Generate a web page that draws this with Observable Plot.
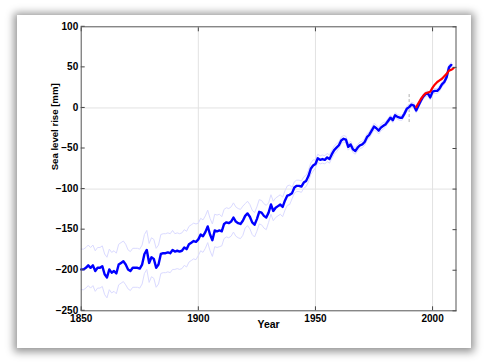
<!DOCTYPE html>
<html>
<head>
<meta charset="utf-8">
<script src="https://cdn.jsdelivr.net/npm/d3@7"></script>
<script src="https://cdn.jsdelivr.net/npm/@observablehq/plot@0.6"></script>
<style>
  html, body { margin: 0; padding: 0; background: #fff; }
  #wrap { position: relative; width: 488px; height: 364px; overflow: hidden; }
  #card { position: absolute; left: 17px; top: 15px; width: 454px; height: 333px; background: #fff;
          box-shadow: 0 1px 8px 3px rgba(0,0,0,0.42); }
  #chart { position: absolute; left: 0; top: 0; }
  #chart text { font-family: "Liberation Sans Narrow", "Arial Narrow", "Liberation Sans", Arial, sans-serif; font-weight: bold; fill: #000; }
  #chart text.ylab { font-family: "Liberation Sans", Arial, sans-serif; }
</style>
</head>
<body>
<div id="wrap"><div id="card"></div><div id="chart"></div></div>
<script>
// Reconstructed global mean sea level (tide gauges), mm, yearly 1850-2008
const tgStartYear = 1850;
const tgValues = [
  -199,-199,-197,-194,-197,-194,-201,-197,-197,-195,
  -205,-209,-199,-203,-201,-204,-193,-191,-189,-193,
  -199,-201,-197,-197,-197,-198,-193,-180,-175,-191,
  -184,-186,-197,-193,-180,-179,-179,-178,-179,-175,
  -177,-176,-177,-176,-172,-174,-168,-166,-164,-165,
  -162,-156,-158,-153,-146,-156,-163,-151,-152,-151,
  -152,-143,-141,-142,-140,-135,-140,-142,-143,-139,
  -133,-130,-134,-141,-144,-137,-128,-129,-133,-135,
  -129,-119,-127,-123,-121,-119,-122,-114,-108,-107,
  -105,-98,-96,-96,-97,-92,-90,-84,-75,-71,
  -69,-62,-64,-63,-64,-61,-63,-57,-52,-49,
  -46,-40,-38,-39,-48,-45,-51,-53,-49,-46,
  -45,-42,-36,-33,-28,-23,-25,-28,-24,-22,
  -20,-16,-12,-15,-9,-11,-12,-12,-7,-1,
  1,4,3,-3,3,9,14,17,18,13,
  20,21,21,24,29,32,38,50,53
];
// Half-width of the uncertainty envelope (mm), read per decade from 1850s to 2000s
const errDecades = [1850,1860,1870,1880,1890,1900,1910,1920,1930,1940,1950,1960,1970,1980,1990,2000];
const errValues  = [25,  25,  24,  24,  22,  20,  18,  15,  12,  7,   5,   4,   4,   3,   3,   3];

// Satellite altimetry (red), mm
const satYears  = [1993,1994,1995,1996,1997,1998,1999,2000,2001,2002,2003,2004,2005,2006,2007,2008,2009];
const satValues = [1,6,11,15,18,19,20,25,29,32,34,36,39,42,46,47,49];

// Dashed marker where the series join
const joinYear = [1990];
const joinRange = [-18, 19];

const xTicks = [1850, 1900, 1950, 2000];
const yTicks = [100, 50, 0, -50, -100, -150, -200, -250];
const xGrid = [1900, 1950, 2000];
const yGrid = [0, -100];
const xDomain = [1850, 2010];
const yDomain = [-250, 100];
const xLabel = "Year";
const yLabel = "Sea level rise [mm]";

const tg = tgValues.map((v, i) => {
  const year = tgStartYear + i;
  const e = errValues[errDecades.indexOf(Math.floor(year / 10) * 10)];
  return {year, v, lo: v - e, hi: v + e};
});
const sat = satYears.map((y, i) => ({year: y, v: satValues[i]}));

const chart = Plot.plot({
  width: 488,
  height: 364,
  marginLeft: 80.7,
  marginRight: 32.5,
  marginTop: 26.3,
  marginBottom: 53.7,
  style: {background: "transparent", fontSize: "10px", overflow: "visible"},
  x: {domain: xDomain},
  y: {domain: yDomain},
  marks: [
    Plot.ruleX(xGrid, {stroke: "#e2e2e2", strokeWidth: 1}),
    Plot.ruleY(yGrid, {stroke: "#e2e2e2", strokeWidth: 1}),
    Plot.ruleX(joinYear, {y1: joinRange[0], y2: joinRange[1], stroke: "#b0b0b0", strokeDasharray: "3,2", strokeWidth: 1}),
    Plot.line(tg, {x: "year", y: "hi", stroke: "#dadaff", strokeWidth: 1}),
    Plot.line(tg, {x: "year", y: "lo", stroke: "#dadaff", strokeWidth: 1}),
    Plot.line(tg, {x: "year", y: "v", stroke: "#0000ff", strokeWidth: 2.4, curve: "linear"}),
    Plot.line(sat, {x: "year", y: "v", stroke: "#ff0000", strokeWidth: 2.2}),
    Plot.axisY({ticks: yTicks, anchor: "left", tickSize: -4, tickPadding: 7, dy: -0.5, label: null, stroke: "#444"}),
    Plot.axisY({ticks: yTicks, anchor: "right", tickSize: -4, tickFormat: () => "", label: null, stroke: "#444"}),
    Plot.axisX({ticks: xTicks, anchor: "bottom", tickSize: -4, tickPadding: 8, tickFormat: d => String(d), label: null, stroke: "#444"}),
    Plot.axisX({ticks: xTicks, anchor: "top", tickSize: -4, tickFormat: () => "", label: null, stroke: "#444"}),
    Plot.frame({stroke: "#555", strokeWidth: 1}),
    Plot.text([yLabel], {frameAnchor: "left", rotate: -90, dx: -26.4, dy: 1.5, text: d => d, className: "ylab", fontSize: 9.6, fontWeight: "bold"}),
    Plot.text([xLabel], {frameAnchor: "bottom", dy: 17.5, text: d => d, fontSize: 10.5, fontWeight: "bold"})
  ]
});
document.getElementById("chart").appendChild(chart);
</script>
</body>
</html>
